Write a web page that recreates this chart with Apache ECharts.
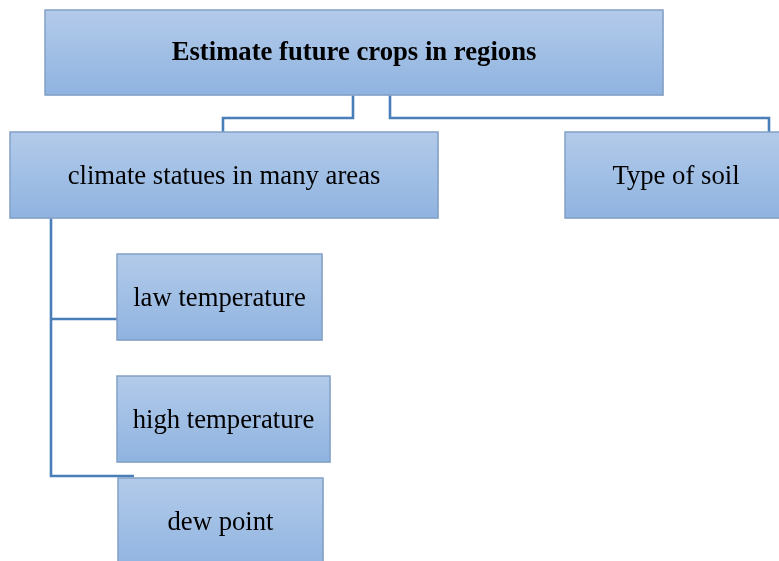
<!DOCTYPE html>
<html>
<head>
<meta charset="utf-8">
<script src="https://cdn.jsdelivr.net/npm/echarts@6/dist/echarts.min.js"></script>
<style>
  html, body { margin: 0; padding: 0; background: #fff; }
  #main { width: 779px; height: 561px; }
</style>
</head>
<body>
<div id="main"></div>
<script>
// node labels and their box extents [x0, y0, x1, y1] in diagram units
var nodeLabels = [
  'Estimate future crops in regions',
  'climate statues in many areas',
  'Type of soil',
  'law temperature',
  'high temperature',
  'dew point'
]
var nodeBoxes = [
  [45, 10, 663, 95],
  [10, 132, 438, 218],
  [565, 132, 787, 218],
  [117, 254, 322, 340],
  [117, 376, 330, 462],
  [118, 478, 323, 570]
]
var nodeBold = [true, false, false, false, false, false]

// connector polylines
var connectors = [
  [[353, 95], [353, 118], [223, 118], [223, 132]],
  [[390, 95], [390, 118], [769, 118], [769, 132]],
  [[51, 218], [51, 476], [134, 476]],
  [[51, 319], [117, 319]]
]

var chart = echarts.init(document.getElementById('main'))

var boxData = nodeBoxes.map(function (b, i) {
  return b.concat([nodeLabels[i], nodeBold[i] ? 1 : 0])
})

var option = {
  backgroundColor: '#ffffff',
  animation: false,
  grid: { left: 0, right: 0, top: 0, bottom: 0 },
  xAxis: { type: 'value', min: 0, max: 779, show: false },
  yAxis: { type: 'value', min: 0, max: 561, inverse: true, show: false },
  series: [{
    type: 'custom',
    z: 1,
    data: connectors.map(function (c, i) { return [i] }),
    renderItem: function (params, api) {
      var pts = connectors[api.value(0)].map(function (p) { return api.coord(p) })
      return {
        type: 'polyline',
        shape: { points: pts },
        style: { stroke: '#4a7eb8', lineWidth: 2.6, fill: null }
      }
    }
  }, {
    type: 'custom',
    z: 2,
    data: boxData,
    renderItem: function (params, api) {
      var p0 = api.coord([api.value(0), api.value(1)])
      var p1 = api.coord([api.value(2), api.value(3)])
      var bold = api.value(5) === 1
      var label = boxData[params.dataIndex][4]
      var w = p1[0] - p0[0]
      var h = p1[1] - p0[1]
      return {
        type: 'group',
        children: [{
          type: 'rect',
          shape: { x: p0[0] + 1, y: p0[1] + 1, width: w, height: h },
          style: { fill: 'rgba(180,190,205,0.5)' }
        }, {
          type: 'rect',
          shape: { x: p0[0], y: p0[1], width: w, height: h },
          style: {
            fill: new echarts.graphic.LinearGradient(0, 0, 0, 1, [
              { offset: 0, color: '#b3cbea' },
              { offset: 1, color: '#8fb3e0' }
            ]),
            stroke: '#82a0c6',
            lineWidth: 1.5
          }
        }, {
          type: 'text',
          style: {
            text: label,
            x: p0[0] + w / 2,
            y: p0[1] + (bold ? 43 : 44.5),
            align: 'center',
            verticalAlign: 'middle',
            fill: '#000',
            font: (bold ? 'bold ' : '') + '26.7px "Liberation Serif", "Times New Roman", serif'
          }
        }]
      }
    }
  }]
}

chart.setOption(option)
window.onresize = chart.resize
</script>
</body>
</html>
